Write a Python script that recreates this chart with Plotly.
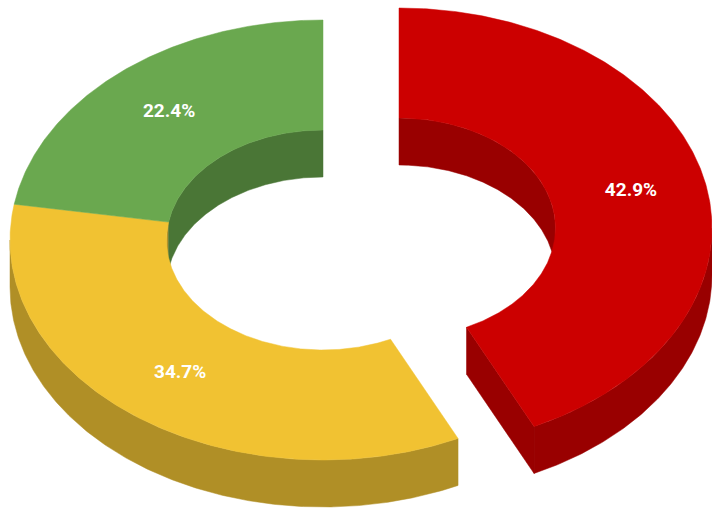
import numpy as np
import plotly.graph_objects as go

# Data
categories = ["Red", "Yellow", "Green"]
values = [42.9, 34.7, 22.4]
labels = ["42.9%", "34.7%", "22.4%"]

# Style
top_colors = ["#CC0000", "#F1C232", "#6AA84F"]
side_colors = ["#990000", "#B08F26", "#4A7636"]
centers = [(399, 228), (323, 240), (323, 240)]  # the red slice is pulled out

RX, RY = 313, 220
HOLE = 0.5
DEPTH = 47
LABEL_R = 0.76
W, H = 712, 511


def pt(c, t, r):
    """Clockwise-from-top angle (degrees) at relative radius r, on the tilted ellipse."""
    a = np.radians(t)
    return c[0] + RX * r * np.sin(a), c[1] - RY * r * np.cos(a)


def arc(c, t0, t1, r, dy=0):
    ts = np.linspace(t0, t1, max(int(abs(t1 - t0) * 2), 2))
    x, y = pt(c, ts, r)
    return x, y + dy


def poly(fig, x, y, color):
    fig.add_trace(go.Scatter(
        x=list(x) + [x[0]], y=list(y) + [y[0]], mode="lines", fill="toself",
        fillcolor=color, line=dict(color=color, width=0.5),
        hoverinfo="skip", showlegend=False))


def overlap(a0, a1, b0, b1):
    lo, hi = max(a0, b0), min(a1, b1)
    return (lo, hi) if hi > lo else None


fig = go.Figure()

# angular span of every slice
spans = []
start = 0.0
total = sum(values)
for v in values:
    spans.append((start, start + v / total * 360))
    start += v / total * 360

# side walls first
for (t0, t1), c, side in zip(spans, centers, side_colors):
    # inner wall: only the far half of the hole shows
    for rng in (overlap(t0, t1, 0, 90), overlap(t0, t1, 270, 360)):
        if rng:
            xa, ya = arc(c, rng[0], rng[1], HOLE)
            xb, yb = arc(c, rng[1], rng[0], HOLE, DEPTH)
            poly(fig, np.r_[xa, xb], np.r_[ya, yb], side)
    # outer wall: the near half
    rng = overlap(t0, t1, 90, 270)
    if rng:
        xa, ya = arc(c, rng[0], rng[1], 1)
        xb, yb = arc(c, rng[1], rng[0], 1, DEPTH)
        poly(fig, np.r_[xa, xb], np.r_[ya, yb], side)

# cut face of the pulled-out slice
t_end = spans[0][1]
x1, y1 = pt(centers[0], t_end, HOLE)
x2, y2 = pt(centers[0], t_end, 1)
poly(fig, [x1, x2, x2, x1], [y1, y2, y2 + DEPTH, y1 + DEPTH], side_colors[0])

# top faces
for (t0, t1), c, top in zip(spans, centers, top_colors):
    xa, ya = arc(c, t0, t1, 1)
    xb, yb = arc(c, t1, t0, HOLE)
    poly(fig, np.r_[xa, xb], np.r_[ya, yb], top)

# percentage labels
for (t0, t1), c, lab in zip(spans, centers, labels):
    x, y = pt(c, (t0 + t1) / 2, LABEL_R)
    fig.add_trace(go.Scatter(
        x=[x], y=[y], mode="text", text=[lab], textposition="middle center",
        textfont=dict(family="Roboto", size=19, color="white", weight=700),
        hoverinfo="skip", showlegend=False))

fig.update_layout(
    width=W, height=H, margin=dict(l=0, r=0, t=0, b=0),
    paper_bgcolor="white", plot_bgcolor="white", showlegend=False,
    xaxis=dict(range=[0, W], visible=False, fixedrange=True),
    yaxis=dict(range=[H, 0], visible=False, fixedrange=True),
)
fig.write_html(
    "out.html",
    config={"displayModeBar": False},
    post_script="document.body.style.margin='0';document.body.style.overflow='hidden';",
)
